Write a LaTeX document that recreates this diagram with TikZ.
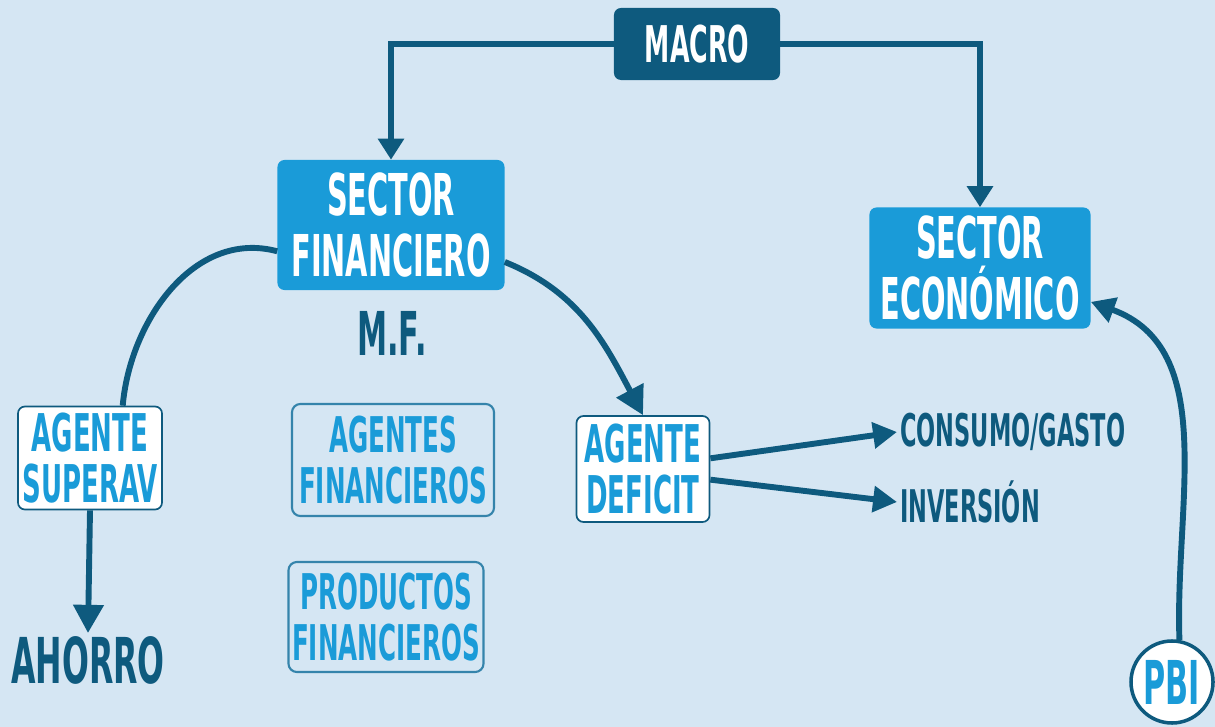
\documentclass[tikz,border=0pt]{standalone}
\usepackage{fontspec}
\usepackage{tikz}
\usetikzlibrary{arrows.meta}
\usetikzlibrary{shapes}
\usetikzlibrary{positioning}
\newfontfamily\condfont{DejaVu Sans}[FakeStretch=0.5]
\definecolor{fondo}{HTML}{D5E6F3}
\definecolor{oscuro}{HTML}{0E5A7E}
\definecolor{celeste}{HTML}{1A9BD8}
\definecolor{borde}{HTML}{3584AB}
\tikzset{>={Triangle[length=20pt,width=21pt]}}
\tikzstyle{flecha} = [->, draw = oscuro, line width = 4.2pt]
\tikzstyle{linea} = [-, draw = oscuro, line width = 4.2pt]
\tikzstyle{titulo} = [rectangle, rounded corners = 5pt, fill = celeste, text = white, align = center, inner sep = 0pt, font = \condfont\bfseries\fontsize{41}{43}\selectfont]
\tikzstyle{agente} = [rectangle, rounded corners = 5pt, fill = white, draw = oscuro, line width = 1.2pt, text = celeste, align = center, inner sep = 0pt, font = \condfont\bfseries\fontsize{37}{36}\selectfont]
\tikzstyle{marco} = [rectangle, rounded corners = 6pt, draw = borde, line width = 1.5pt, text = celeste, align = center, inner sep = 0pt, font = \condfont\bfseries\fontsize{35}{36}\selectfont]
\tikzstyle{rotulo} = [draw = none, text = oscuro, inner sep = 2pt, font = \condfont\bfseries\fontsize{32}{32}\selectfont]

\begin{document}
\begin{tikzpicture}[x=0.025cm, y=-0.025cm]
\fill [fondo] (0, 0) rectangle (1215, 727);
\useasboundingbox (0, 0) rectangle (1215, 727);

\node [rectangle, rounded corners = 5pt, fill = oscuro, text = white, inner sep = 0pt, minimum width = 4.15cm, minimum height = 1.8cm, font = \condfont\bfseries\fontsize{36}{36}\selectfont] (macro) at (697, 44) {MACRO};
\node [titulo, minimum width = 5.675cm, minimum height = 3.25cm] (sf) at (391, 225) {SECTOR\\FINANCIERO};
\node [titulo, minimum width = 5.525cm, minimum height = 3.025cm] (se) at (980, 268) {SECTOR\\ECONÓMICO};
\node [rotulo, font = \condfont\bfseries\fontsize{43}{43}\selectfont] (mf) at (392, 333) {M.F.};

\node [agente, minimum width = 3.6cm, minimum height = 2.575cm] (sup) at (90, 458) {AGENTE\\SUPERAV};
\node [marco, minimum width = 5.05cm, minimum height = 2.8cm] (af) at (393, 460) {AGENTES\\FINANCIEROS};
\node [marco, minimum width = 4.875cm, minimum height = 2.75cm] (pf) at (386, 617) {PRODUCTOS\\FINANCIEROS};
\node [agente, minimum width = 3.325cm, minimum height = 2.65cm] (def) at (643, 469) {AGENTE\\DEFICIT};
\node [rotulo, font = \condfont\bfseries\fontsize{45}{46}\selectfont] (ahorro) at (88, 660) {AHORRO};
\node [rotulo, anchor = west] (consumo) at (897, 432) {CONSUMO/GASTO};
\node [rotulo, anchor = west] (inv) at (897, 502) {INVERSIÓN};
\node [circle, fill = white, draw = oscuro, line width = 2.5pt, text = celeste, inner sep = 0pt, minimum size = 2.05cm, font = \condfont\bfseries\fontsize{43}{43}\selectfont] (pbi) at (1172, 682) {PBI};

\draw [flecha, >={Triangle[length=15pt,width=18pt]}] (macro.west) -| (sf.north);
\draw [flecha, >={Triangle[length=15pt,width=18pt]}] (macro.east) -| (se.north);
\draw [linea] (sf.193) to [out = 165, in = 85] (sup.58);
\draw [flecha] (sf.-18) to [out = -22, in = 118] (def.north);
\draw [flecha] (sup.south) -- (ahorro.north);
\draw [flecha, >={Triangle[length=17pt,width=18pt]}] (def.9) -- (consumo.west);
\draw [flecha, >={Triangle[length=17pt,width=18pt]}] (def.-9) -- (inv.west);
\draw [flecha, >={Triangle[length=17pt,width=18pt]}] (pbi.80) to [out = 92, in = -20] (se.-17);
\end{tikzpicture}
\end{document}
